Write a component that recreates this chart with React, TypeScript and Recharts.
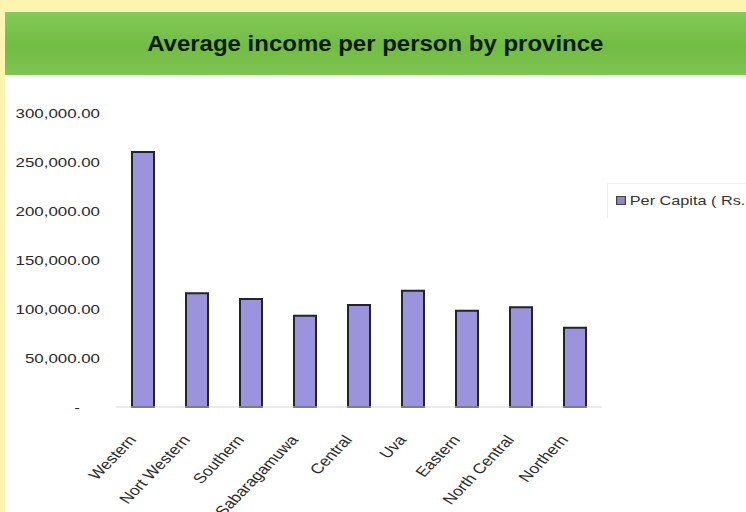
import { BarChart, Bar, XAxis, YAxis, Legend } from "recharts";

const provinces = [
  "Western",
  "Nort Western",
  "Southern",
  "Sabaragamuwa",
  "Central",
  "Uva",
  "Eastern",
  "North Central",
  "Northern",
];
const perCapita = [260200, 116000, 110200, 93200, 104000, 118700, 98300, 101700, 80900];
const yTicks = [0, 50000, 100000, 150000, 200000, 250000, 300000];
const seriesName = "Per Capita ( Rs. )";
const title = "Average income per person by province";

const data = provinces.map((p, i) => ({ name: p, value: perCapita[i] }));

const font = "Arial, Liberation Sans, sans-serif";
// the source picture is stretched sideways a bit
const stretch = 1.25;

const fmt = (v: number) =>
  v === 0 ? "-" : v.toLocaleString("en-US", { minimumFractionDigits: 2, maximumFractionDigits: 2 });

function YTick({ x, y, payload }: any) {
  const zero = payload.value === 0;
  return (
    <text
      transform={`translate(${zero ? x - 20 : x},${y + 5}) scale(${stretch},1)`}
      textAnchor="end"
      fontSize={13.5}
      fontFamily={font}
      fill="#2a2a2a"
    >
      {fmt(payload.value)}
    </text>
  );
}

function XTick({ x, y, payload }: any) {
  return (
    <text
      transform={`translate(${x - 6},${y + 33}) scale(${stretch},1) rotate(-52)`}
      textAnchor="end"
      fontSize={14}
      fontFamily={font}
      fill="#2a2a2a"
    >
      {payload.value}
    </text>
  );
}

function LegendBox() {
  return (
    <div
      style={{
        borderLeft: "1px solid #f0f0f0",
        borderTop: "1px solid #f3f3f3",
        padding: "9px 0 10px 8px",
        width: 140,
      }}
    >
      <div
        style={{
          display: "flex",
          alignItems: "center",
          fontFamily: font,
          fontSize: 13,
          color: "#333",
          whiteSpace: "nowrap",
          transform: `scaleX(${stretch})`,
          transformOrigin: "left center",
        }}
      >
        <span
          style={{
            display: "inline-block",
            width: 6,
            height: 7,
            background: "#8f88c4",
            border: "1px solid #444",
            marginRight: 3,
          }}
        />
        {seriesName}
      </div>
    </div>
  );
}

export default function App() {
  return (
    <div
      style={{
        position: "fixed",
        left: 0,
        top: 0,
        width: 746,
        height: 512,
        overflow: "hidden",
        background: "#fdf4b0",
      }}
    >
      <div
        style={{
          position: "absolute",
          left: 5,
          top: 12,
          width: 741,
          height: 63,
          background: "linear-gradient(to bottom, #86c95a 0%, #72bc44 55%, #7ec551 100%)",
          display: "flex",
          alignItems: "center",
          justifyContent: "center",
        }}
      >
        <div
          style={{
            fontFamily: font,
            fontWeight: "bold",
            fontSize: 22,
            color: "#0d1c07",
            transform: "scaleX(1.09)",
            whiteSpace: "nowrap",
          }}
        >
          {title}
        </div>
      </div>
      <div
        style={{
          position: "absolute",
          left: 5,
          top: 75,
          width: 741,
          height: 437,
          background: "#ffffff",
        }}
      />
      <div style={{ position: "absolute", left: 0, top: 0 }}>
        <BarChart
          width={746}
          height={512}
          data={data}
          margin={{ top: 113, right: 144, bottom: 5, left: 0 }}
          barCategoryGap="0%"
        >
          <XAxis
            dataKey="name"
            interval={0}
            height={100}
            tick={<XTick />}
            tickSize={0}
            tickMargin={0}
            tickLine={false}
            axisLine={{ stroke: "#d6d6d6" }}
          />
          <YAxis
            width={116}
            domain={[0, 300000]}
            ticks={yTicks}
            interval={0}
            tick={<YTick />}
            tickSize={0}
            tickMargin={16}
            axisLine={false}
            tickLine={false}
          />
          <Legend
            layout="vertical"
            align="center"
            verticalAlign="middle"
            content={() => <LegendBox />}
            wrapperStyle={{ position: "absolute", left: 607, top: 183, width: 200 }}
          />
          <Bar
            dataKey="value"
            name={seriesName}
            fill="#9b93dc"
            stroke="#23232f"
            strokeWidth={2}
            barSize={22}
            isAnimationActive={false}
          />
        </BarChart>
      </div>
    </div>
  );
}
